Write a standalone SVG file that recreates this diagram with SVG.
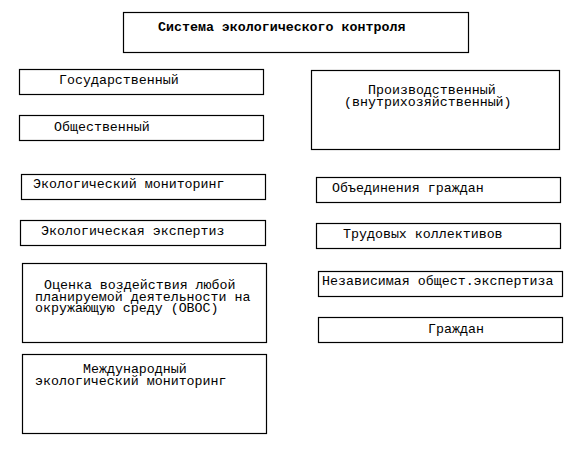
<svg xmlns="http://www.w3.org/2000/svg" width="586" height="454" viewBox="0 0 586 454">
<style>
.b{fill:#fff;stroke:#000;stroke-width:1.2}
.t{font-family:"Liberation Mono","DejaVu Sans Mono",monospace;font-size:13.3px;fill:#000}
.h{font-weight:bold}
</style>
<rect width="586" height="454" fill="#fff"/>
<g id="connectors"></g>
<g id="n-title"><rect class="b" x="123.5" y="12.5" width="345" height="40"/><text class="t h" x="158" y="31">Система экологического контроля</text></g>
<g id="n-gos"><rect class="b" x="19.5" y="69.5" width="244" height="25"/><text class="t" x="59" y="84">Государственный</text></g>
<g id="n-obsh"><rect class="b" x="19.5" y="115.5" width="244" height="25"/><text class="t" x="54" y="131">Общественный</text></g>
<g id="n-proizv"><rect class="b" x="311.5" y="70.5" width="248" height="79"/><text class="t"><tspan x="368" y="94">Производственный</tspan><tspan x="344" y="106">(внутрихозяйственный)</tspan></text></g>
<g id="n-ekomon"><rect class="b" x="21.5" y="174.5" width="244" height="25"/><text class="t" x="33" y="188">Экологический мониторинг</text></g>
<g id="n-ekoexp"><rect class="b" x="20.5" y="220.5" width="245" height="25"/><text class="t" x="41" y="235">Экологическая экспертиз</text></g>
<g id="n-ovos"><rect class="b" x="22.5" y="263.5" width="244" height="79"/><text class="t"><tspan x="44" y="289">Оценка воздействия любой</tspan><tspan x="35" y="301">планируемой деятельности на</tspan><tspan x="35" y="312">окружающую среду (ОВОС)</tspan></text></g>
<g id="n-mezhd"><rect class="b" x="22.5" y="354.5" width="244" height="79"/><text class="t"><tspan x="83" y="373">Международный</tspan><tspan x="35" y="385">экологический мониторинг</tspan></text></g>
<g id="n-obed"><rect class="b" x="316.5" y="177.5" width="244" height="25"/><text class="t" x="332" y="192">Объединения граждан</text></g>
<g id="n-trud"><rect class="b" x="316.5" y="223.5" width="244" height="25"/><text class="t" x="343" y="238">Трудовых коллективов</text></g>
<g id="n-nezav"><rect class="b" x="318.5" y="271.5" width="244" height="25"/><text class="t" x="322" y="285">Независимая общест.экспертиза</text></g>
<g id="n-grazh"><rect class="b" x="318.5" y="317.5" width="244" height="25"/><text class="t" x="428" y="333">Граждан</text></g>
</svg>
